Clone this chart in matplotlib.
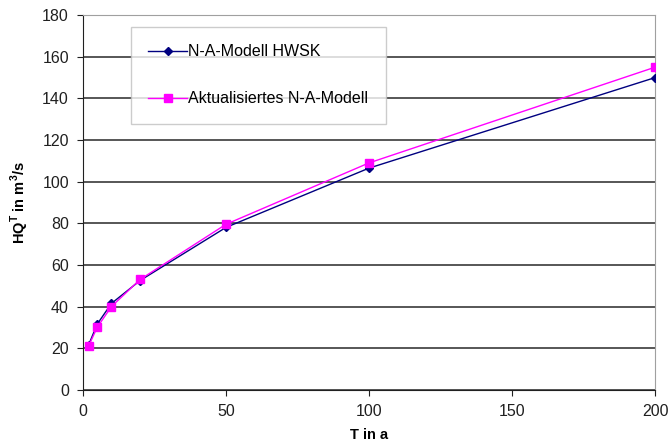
import matplotlib
matplotlib.use("Agg")
import matplotlib.pyplot as plt

plt.rcParams['font.family'] = ['Liberation Sans', 'DejaVu Sans']

T = [2, 5, 10, 20, 50, 100, 200]
hq_hwsk = [21.5, 31.5, 41.5, 52.5, 78, 106.5, 150]
hq_neu = [21, 30, 40, 53, 79.5, 109, 155]

fig = plt.figure(figsize=(6.68, 4.43), dpi=100)
ax = fig.add_axes([0.124, 0.120, 0.857, 0.846])

ax.plot(T, hq_hwsk, color='#000080', marker='D', markersize=4.5, lw=1,
        label='N-A-Modell HWSK', zorder=3)
ax.plot(T, hq_neu, color='#ff00ff', marker='s', markersize=5.5, lw=1,
        label='Aktualisiertes N-A-Modell', zorder=3)

ax.set_xlim(0, 200)
ax.set_ylim(0, 180)
ax.set_xticks(range(0, 201, 50))
ax.set_yticks(range(0, 181, 20))
ax.yaxis.grid(True, color='#3a3a3a', lw=1.2)
ax.set_axisbelow(True)

for s in ['top', 'right']:
    ax.spines[s].set_color('#a0a0a0')
for s in ['left', 'bottom']:
    ax.spines[s].set_color('#202020')
ax.tick_params(direction='out', length=4, labelsize=11.5, colors='#202020', pad=6)

ax.set_xlabel('T in a', fontsize=10.5, fontweight='bold', labelpad=7)
ax.set_ylabel(r'HQ$^{\mathregular{T}}$ in m$^{\mathregular{3}}$/s', fontsize=10.5,
              fontweight='bold', labelpad=8)

leg = ax.legend(loc='upper left', bbox_to_anchor=(0.07, 0.99), fontsize=11.5,
                frameon=True, fancybox=False, edgecolor='#c0c0c0',
                labelspacing=2.0, borderpad=1.1, handlelength=2.4, handletextpad=0.1)
leg.get_frame().set_linewidth(1)

fig.savefig('out.png', dpi=100)
